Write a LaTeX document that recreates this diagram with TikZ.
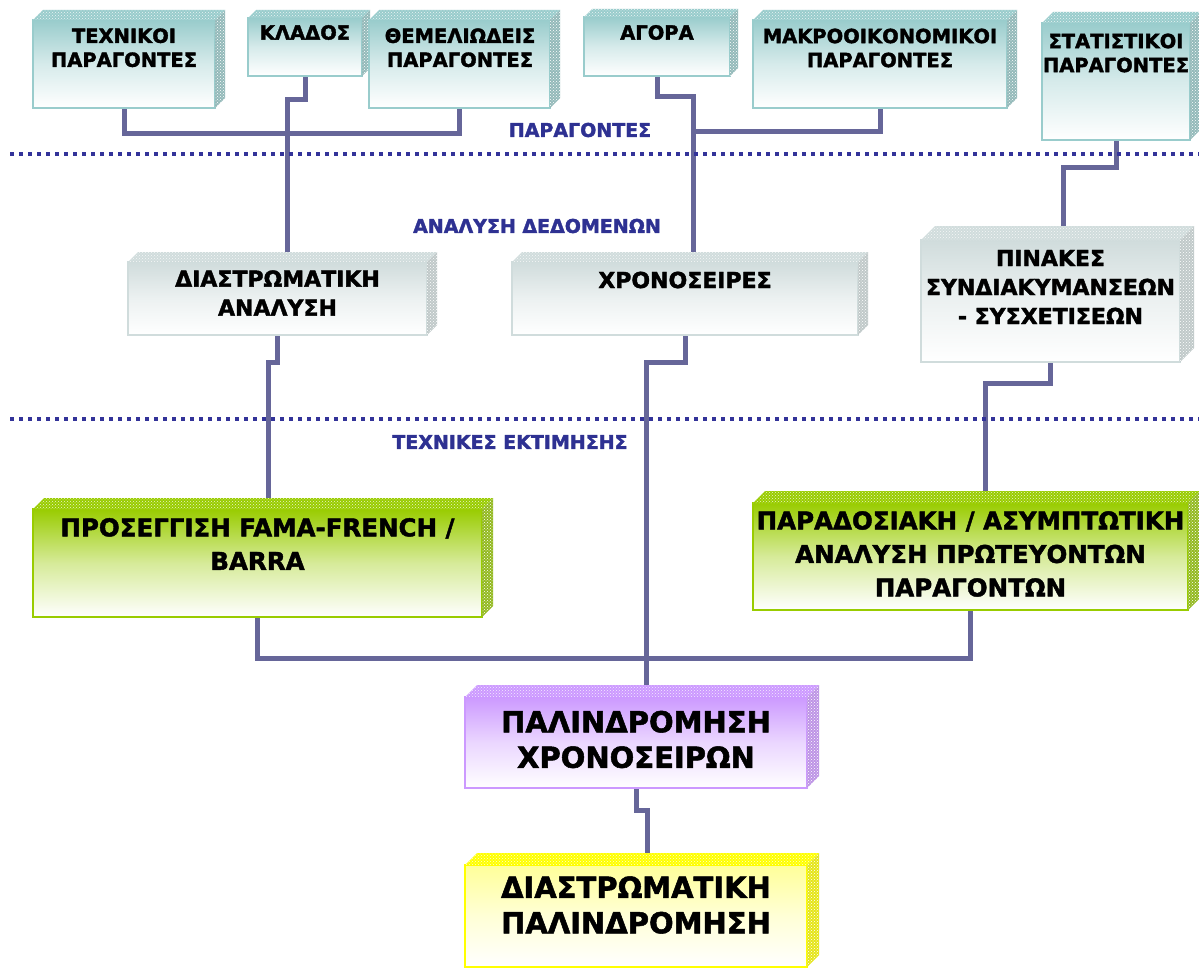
\documentclass[tikz,border=0pt]{standalone}
\usepackage{fontspec}
\setmainfont{DejaVu Sans}[BoldFeatures={FakeBold=1.8}]
\usetikzlibrary{patterns,calc}
\pgfdeclarelayer{bg}
\pgfsetlayers{bg,main}
\definecolor{connc}{HTML}{666699}
\definecolor{dotc}{HTML}{333399}
\definecolor{labc}{HTML}{2E3192}
\definecolor{tealc}{HTML}{99CCCC}
\definecolor{grayc}{HTML}{D0DCDC}
\definecolor{greenc}{HTML}{99CC00}
\definecolor{purpc}{HTML}{CC99FF}
\definecolor{yelc}{HTML}{FFFF00}
\definecolor{yelf}{HTML}{FFFF99}
\tikzset{
  conn/.style={draw=connc, line width=5pt, line join=miter},
  dotline/.style={draw=dotc, line width=4pt, dash pattern=on 4pt off 5pt},
  front/.style 2 args={draw=#1, line width=2.5pt, top color=#2, bottom color=white, middle color=#2!40, anchor=north west, inner sep=0pt, outer sep=0pt},
  txt/.style={inner sep=0pt, align=center, text=black},
  toptxt/.style={txt, font=\fontsize{19.5}{24}\selectfont\bfseries},
  midtxt/.style={txt, font=\fontsize{22}{29}\selectfont\bfseries},
  grntxt/.style={txt, font=\fontsize{24.5}{33.5}\selectfont\bfseries},
  bigtxt/.style={txt, font=\fontsize{29}{35.5}\selectfont\bfseries},
  labtxt/.style={inner sep=0pt, text=labc, font=\fontsize{19}{23}\selectfont\bfseries},
}
\newcommand\boxfaces[4]{%
  \fill[#3, postaction={pattern=crosshatch dots, pattern color=white!80!#3}] (#1.north west) -- ++(#2,-#2) -- ($(#1.north east)+(#2,-#2)$) -- (#1.north east) -- cycle;
  \fill[#4, postaction={pattern=crosshatch dots, pattern color=white}] (#1.north east) -- ++(#2,-#2) -- ($(#1.south east)+(#2,-#2)$) -- (#1.south east) -- cycle;
}
\begin{document}
\begin{tikzpicture}[x=1pt,y=-1pt]
\useasboundingbox (0,0) rectangle (1199,971);
\begin{pgfonlayer}{bg}
\fill[white] (0,0) rectangle (1199,971);
\end{pgfonlayer}

% dotted separators
\draw[dotline] (10,154) -- (1199,154);
\draw[dotline] (10,419) -- (1199,419);

% top row
\node[front={tealc}{tealc}, minimum width=182pt, minimum height=88pt] (b1) at (33,20) {};
\boxfaces{b1}{10}{tealc}{tealc!75!gray}
\node[front={tealc}{tealc}, minimum width=114pt, minimum height=58pt] (b2) at (248,18) {};
\boxfaces{b2}{8}{tealc}{tealc!75!gray}
\node[front={tealc}{tealc}, minimum width=181pt, minimum height=88pt] (b3) at (369,20) {};
\boxfaces{b3}{10}{tealc}{tealc!75!gray}
\node[front={tealc}{tealc}, minimum width=146pt, minimum height=59pt] (b4) at (584,17) {};
\boxfaces{b4}{8}{tealc}{tealc!75!gray}
\node[front={tealc}{tealc}, minimum width=254pt, minimum height=88pt] (b5) at (753,20) {};
\boxfaces{b5}{10}{tealc}{tealc!75!gray}
\node[front={tealc}{tealc}, minimum width=148pt, minimum height=117pt] (b6) at (1042,23) {};
\boxfaces{b6}{11}{tealc}{tealc!75!gray}

% middle row
\node[front={grayc}{grayc}, minimum width=299pt, minimum height=73pt] (m1) at (128,262) {};
\boxfaces{m1}{10}{grayc}{grayc!80!gray}
\node[front={grayc}{grayc}, minimum width=346pt, minimum height=73pt] (m2) at (512,262) {};
\boxfaces{m2}{10}{grayc}{grayc!80!gray}
\node[front={grayc}{grayc}, minimum width=259pt, minimum height=122pt] (m3) at (921,240) {};
\boxfaces{m3}{14}{grayc}{grayc!80!gray}

% green row
\node[front={greenc}{greenc}, minimum width=449pt, minimum height=108pt] (g1) at (33,509) {};
\boxfaces{g1}{11}{greenc}{greenc!75!gray}
\node[front={greenc}{greenc}, minimum width=435pt, minimum height=107pt] (g2) at (753,503) {};
\boxfaces{g2}{12}{greenc}{greenc!75!gray}

% purple and yellow
\node[front={purpc}{purpc}, minimum width=342pt, minimum height=91pt] (p1) at (465,697) {};
\boxfaces{p1}{12}{purpc}{purpc!80!gray}
\node[front={yelc}{yelf}, minimum width=342pt, minimum height=102pt] (y1) at (465,865) {};
\boxfaces{y1}{12}{yelc}{yelc!80!gray}

% texts
\node[toptxt] (b1t) at (124,47.75) {ΤΕΧΝΙΚΟΙ\\ΠΑΡΑΓΟΝΤΕΣ};
\node[toptxt] (b2t) at (305,32.5) {ΚΛΑΔΟΣ};
\node[toptxt] (b3t) at (460,47.75) {ΘΕΜΕΛΙΩΔΕΙΣ\\ΠΑΡΑΓΟΝΤΕΣ};
\node[toptxt] (b4t) at (657,32.5) {ΑΓΟΡΑ};
\node[toptxt] (b5t) at (880,48) {ΜΑΚΡΟΟΙΚΟΝΟΜΙΚΟΙ\\ΠΑΡΑΓΟΝΤΕΣ};
\node[toptxt] (b6t) at (1116,53) {ΣΤΑΤΙΣΤΙΚΟΙ\\ΠΑΡΑΓΟΝΤΕΣ};
\node[midtxt] (m1t) at (277.5,293) {ΔΙΑΣΤΡΩΜΑΤΙΚΗ\\ΑΝΑΛΥΣΗ};
\node[midtxt] (m2t) at (685,280) {ΧΡΟΝΟΣΕΙΡΕΣ};
\node[midtxt] (m3t) at (1050.5,287) {ΠΙΝΑΚΕΣ\\ΣΥΝΔΙΑΚΥΜΑΝΣΕΩΝ\\- ΣΥΣΧΕΤΙΣΕΩΝ};
\node[grntxt] (g1t) at (257.5,544) {ΠΡΟΣΕΓΓΙΣΗ FAMA-FRENCH /\\BARRA};
\node[grntxt] (g2t) at (970.5,554) {ΠΑΡΑΔΟΣΙΑΚΗ / ΑΣΥΜΠΤΩΤΙΚΗ\\ΑΝΑΛΥΣΗ ΠΡΩΤΕΥΟΝΤΩΝ\\ΠΑΡΑΓΟΝΤΩΝ};
\node[bigtxt] (p1t) at (636,739.5) {ΠΑΛΙΝΔΡΟΜΗΣΗ\\ΧΡΟΝΟΣΕΙΡΩΝ};
\node[bigtxt] (y1t) at (636,905) {ΔΙΑΣΤΡΩΜΑΤΙΚΗ\\ΠΑΛΙΝΔΡΟΜΗΣΗ};

% layer labels
\node[labtxt] (l1) at (580,130) {ΠΑΡΑΓΟΝΤΕΣ};
\node[labtxt] (l2) at (537,226) {ΑΝΑΛΥΣΗ ΔΕΔΟΜΕΝΩΝ};
\node[labtxt] (l3) at (510,442) {ΤΕΧΝΙΚΕΣ ΕΚΤΙΜΗΣΗΣ};

% connectors
\begin{pgfonlayer}{bg}
\draw[conn] (b1.south) -- (124,134) -- (459.5,134) -- (b3.south);
\draw[conn] (b2.south) -- (305,100) -- (287,100) -- ([xshift=9.5pt]m1.north);
\draw[conn] (b4.south) -- (657,97) -- (693,97) -- ([xshift=8pt]m2.north);
\draw[conn] (b5.south) -- (880,132) -- (693,132);
\draw[conn] (b6.south) -- (1116,167) -- (1063,167) -- ([xshift=12.5pt]m3.north);
\draw[conn] (m1.south) -- (277.5,362) -- (268,362) -- ([xshift=10.5pt]g1.north);
\draw[conn] (m2.south) -- (685,362) -- (646,362) -- ([xshift=10pt]p1.north);
\draw[conn] (m3.south) -- (1050.5,383) -- (985,383) -- ([xshift=14.5pt]g2.north);
\draw[conn] (g1.south) -- (257.5,658) -- (970.5,658) -- (g2.south);
\draw[conn] (p1.south) -- (636,810) -- (647,810) -- ([xshift=11pt]y1.north);
\end{pgfonlayer}
\end{tikzpicture}
\end{document}
